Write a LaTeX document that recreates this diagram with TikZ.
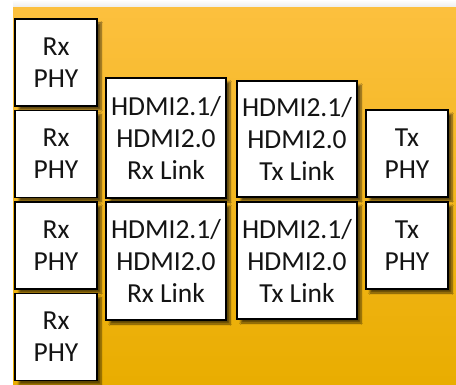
\documentclass[tikz,border=0pt]{standalone}
\usepackage{fontspec}
\setmainfont{Carlito}
\usetikzlibrary{shadows.blur}
\definecolor{bgtop}{RGB}{252,192,62}
\definecolor{bgbot}{RGB}{233,173,0}
\tikzset{
  blk/.style={draw=black, line width=1.4pt, fill=white, inner sep=0pt, align=center,
    font=\fontsize{27.5}{32}\selectfont, text=black!92,
    blur shadow={shadow xshift=4pt, shadow yshift=-4pt, shadow blur steps=6, shadow opacity=60}},
  phy/.style={blk, minimum width=82pt, minimum height=87pt},
  lnk/.style={blk, minimum width=120pt, minimum height=118pt}
}
\begin{document}
\begin{tikzpicture}[x=1pt, y=-1pt]
\useasboundingbox (0,0) rectangle (456,385);
\fill[white] (0,0) rectangle (456,385);
\shade[top color=white, bottom color=black!8] (13,0) rectangle (456,8);
\shade[top color=bgtop, bottom color=bgbot] (13,8) rectangle (456,385);
\node[phy] (rx1) at (56,62.5) {Rx\\PHY};
\node[phy] (rx2) at (56,154) {Rx\\PHY};
\node[phy] (rx3) at (56,245.5) {Rx\\PHY};
\node[phy] (rx4) at (56,337) {Rx\\PHY};
\node[lnk, minimum height=120pt] (rxl1) at (166,138) {HDMI2.1/\\HDMI2.0\\Rx Link};
\node[lnk] (rxl2) at (166,261) {HDMI2.1/\\HDMI2.0\\Rx Link};
\node[lnk, minimum height=116pt] (txl1) at (297,139) {HDMI2.1/\\HDMI2.0\\Tx Link};
\node[lnk, minimum height=117pt] (txl2) at (297,260.5) {HDMI2.1/\\HDMI2.0\\Tx Link};
\node[phy] (txp1) at (407,153.5) {Tx\\PHY};
\node[phy] (txp2) at (407,245.5) {Tx\\PHY};
\end{tikzpicture}
\end{document}
